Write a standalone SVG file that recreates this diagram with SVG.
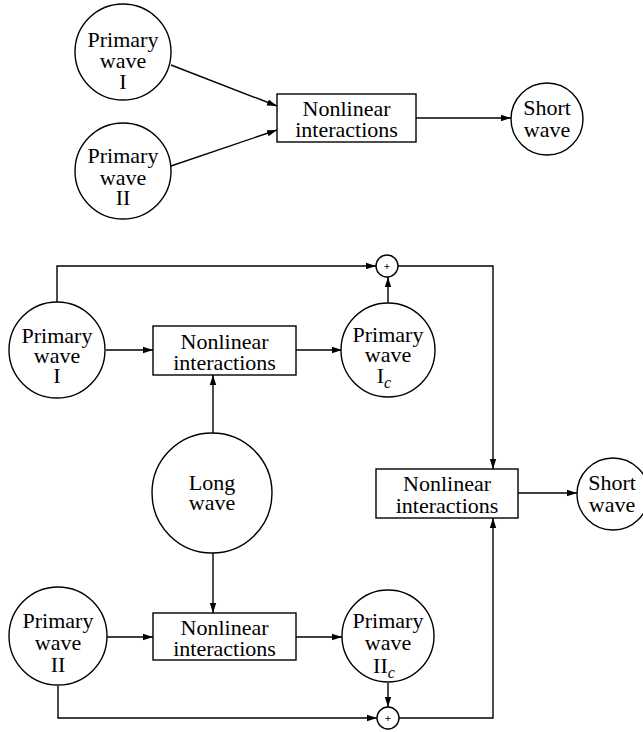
<svg xmlns="http://www.w3.org/2000/svg" width="643" height="732" viewBox="0 0 643 732">
<style>
.n{fill:#fff;stroke:#000;stroke-width:1.4}
.c{fill:none;stroke:#000;stroke-width:1.4}
text{font-family:"Liberation Serif","Times New Roman",serif;font-size:22px;fill:#000;text-anchor:middle}
.sub{font-style:italic;font-size:16px}
.plus{font-size:11px;font-weight:bold}
</style>
<defs>
<marker id="ah" viewBox="0 0 10 8" refX="10" refY="4" markerWidth="10" markerHeight="8" markerUnits="userSpaceOnUse" orient="auto">
<path d="M0,0.8 L10,4 L0,7.2 Z" fill="#000"/>
</marker>
</defs>
<rect width="643" height="732" fill="#fff"/>
<g id="connectors">
<line class="c" x1="171" y1="65" x2="277" y2="106" marker-end="url(#ah)"/>
<line class="c" x1="171" y1="166" x2="277" y2="130" marker-end="url(#ah)"/>
<line class="c" x1="416" y1="118" x2="511" y2="118" marker-end="url(#ah)"/>
<polyline class="c" points="57,302 57,266 376,266" marker-end="url(#ah)"/>
<line class="c" x1="388" y1="303" x2="388" y2="277" marker-end="url(#ah)"/>
<polyline class="c" points="398,266 493,266 493,469" marker-end="url(#ah)"/>
<line class="c" x1="106" y1="350" x2="153" y2="350" marker-end="url(#ah)"/>
<line class="c" x1="296" y1="350" x2="342" y2="350" marker-end="url(#ah)"/>
<line class="c" x1="213" y1="433" x2="213" y2="375" marker-end="url(#ah)"/>
<line class="c" x1="213" y1="553" x2="213" y2="613" marker-end="url(#ah)"/>
<line class="c" x1="107" y1="637" x2="153" y2="637" marker-end="url(#ah)"/>
<line class="c" x1="296" y1="637" x2="342" y2="637" marker-end="url(#ah)"/>
<line class="c" x1="388" y1="683" x2="388" y2="707" marker-end="url(#ah)"/>
<polyline class="c" points="58,686 58,718 377,718" marker-end="url(#ah)"/>
<polyline class="c" points="399,718 493,718 493,518" marker-end="url(#ah)"/>
<line class="c" x1="518" y1="493" x2="577" y2="493" marker-end="url(#ah)"/>
</g>
<g id="top-primary-1">
<circle class="n" cx="123" cy="52" r="48"/>
<text x="123" y="47">Primary</text><text x="123" y="68">wave</text><text x="123" y="89">I</text>
</g>
<g id="top-primary-2">
<circle class="n" cx="123" cy="171" r="48"/>
<text x="123" y="163">Primary</text><text x="123" y="185">wave</text><text x="123" y="205">II</text>
</g>
<g id="top-nonlinear">
<rect class="n" x="277" y="94" width="139" height="48"/>
<text x="346.5" y="116">Nonlinear</text><text x="346.5" y="137">interactions</text>
</g>
<g id="top-short">
<circle class="n" cx="547" cy="119" r="36"/>
<text x="547" y="115">Short</text><text x="547" y="137">wave</text>
</g>
<g id="plus-top">
<circle class="n" cx="387" cy="266" r="11"/>
<text class="plus" x="387" y="270">+</text>
</g>
<g id="primary-1">
<circle class="n" cx="57" cy="350" r="48"/>
<text x="57" y="343">Primary</text><text x="57" y="363">wave</text><text x="57" y="383">I</text>
</g>
<g id="nonlinear-1">
<rect class="n" x="153" y="326" width="143" height="49"/>
<text x="224.5" y="349">Nonlinear</text><text x="224.5" y="370">interactions</text>
</g>
<g id="primary-1c">
<circle class="n" cx="388" cy="350" r="47"/>
<text x="388" y="342">Primary</text><text x="388" y="362">wave</text><text x="384" y="383">I<tspan class="sub" dy="5">c</tspan></text>
</g>
<g id="long-wave">
<circle class="n" cx="212" cy="493" r="60"/>
<text x="212" y="490">Long</text><text x="212" y="510">wave</text>
</g>
<g id="nonlinear-3">
<rect class="n" x="376" y="469" width="142" height="49"/>
<text x="447" y="491">Nonlinear</text><text x="447" y="513">interactions</text>
</g>
<g id="short-wave">
<circle class="n" cx="613" cy="494" r="36"/>
<text x="612" y="490">Short</text><text x="612" y="512">wave</text>
</g>
<g id="primary-2">
<circle class="n" cx="58" cy="636" r="49"/>
<text x="58" y="628">Primary</text><text x="58" y="650">wave</text><text x="58" y="672">II</text>
</g>
<g id="nonlinear-2">
<rect class="n" x="153" y="613" width="143" height="47"/>
<text x="224.5" y="635">Nonlinear</text><text x="224.5" y="656">interactions</text>
</g>
<g id="primary-2c">
<circle class="n" cx="388" cy="636" r="46"/>
<text x="388" y="628">Primary</text><text x="388" y="650">wave</text><text x="384" y="673">II<tspan class="sub" dy="5">c</tspan></text>
</g>
<g id="plus-bottom">
<circle class="n" cx="388" cy="718" r="11"/>
<text class="plus" x="388" y="722">+</text>
</g>
</svg>
